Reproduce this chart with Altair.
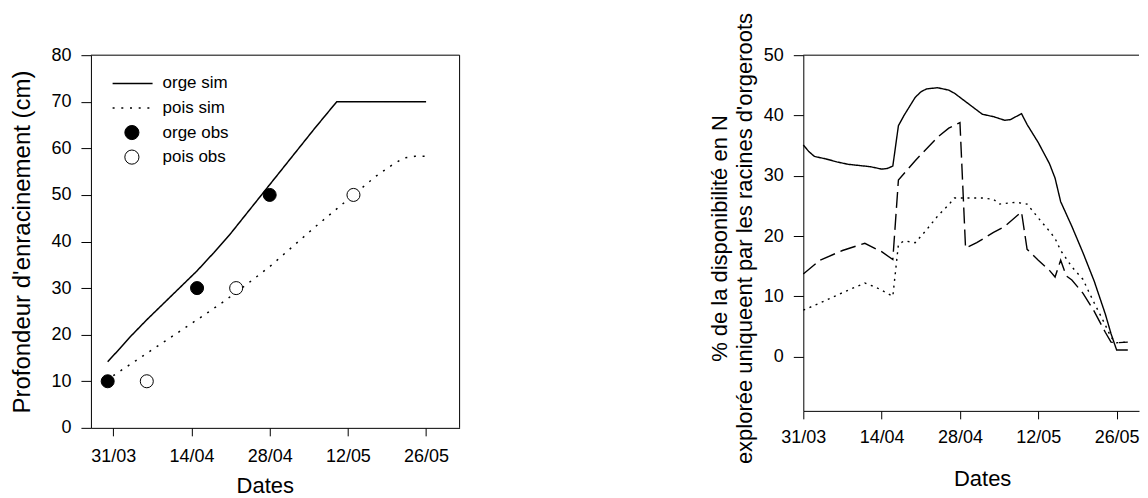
import altair as alt
import pandas as pd

FONT = "Liberation Sans"
NBSP2 = "\u00a0\u00a0"

# ---------------- Left panel : Profondeur d'enracinement ----------------
serie_labels = ["orge sim", "pois sim", "orge obs", "pois obs"]

orge_sim_dates = ["2003-03-30", "2003-04-01", "2003-04-03", "2003-04-06", "2003-04-09",
                  "2003-04-12", "2003-04-15", "2003-04-18", "2003-04-21", "2003-04-24",
                  "2003-04-28", "2003-05-02", "2003-05-06", "2003-05-10", "2003-05-26"]
orge_sim_vals = [14.2, 16.8, 19.5, 23.2, 26.7, 30.2, 33.7, 37.6, 41.7, 46.2,
                 52.2, 58.2, 64.2, 70.0, 70.0]

pois_sim_dates = ["2003-03-31", "2003-04-04", "2003-04-08", "2003-04-12", "2003-04-16",
                  "2003-04-20", "2003-04-24", "2003-04-28", "2003-05-02", "2003-05-06",
                  "2003-05-10", "2003-05-14", "2003-05-17", "2003-05-20", "2003-05-22",
                  "2003-05-24", "2003-05-26"]
pois_sim_vals = [11.2, 14.4, 17.6, 20.8, 24.0, 27.3, 30.9, 34.6, 38.8, 43.0,
                 47.0, 51.0, 54.0, 56.5, 57.9, 58.3, 58.3]

orge_obs_dates = ["2003-03-30", "2003-04-15", "2003-04-28"]
orge_obs_vals = [10, 30, 50]
pois_obs_dates = ["2003-04-06", "2003-04-22", "2003-05-13"]
pois_obs_vals = [10, 30, 50]

left_y_ticks = [0, 10, 20, 30, 40, 50, 60, 70, 80]
left_y_top = [80]
left_x_end = ["2003-06-01"]

# ---------------- Right panel : % de la disponibilité en N ----------------
right_series = ["trait plein", "tirets", "pointillés"]

solid_dates = ["2003-03-31", "2003-04-01", "2003-04-02", "2003-04-04", "2003-04-06",
               "2003-04-08", "2003-04-10", "2003-04-12", "2003-04-14", "2003-04-15",
               "2003-04-16", "2003-04-17", "2003-04-18", "2003-04-19", "2003-04-20",
               "2003-04-21", "2003-04-22", "2003-04-24", "2003-04-26", "2003-04-27",
               "2003-04-28", "2003-04-30", "2003-05-02", "2003-05-04", "2003-05-06",
               "2003-05-07", "2003-05-09", "2003-05-10", "2003-05-12", "2003-05-14",
               "2003-05-15", "2003-05-16", "2003-05-18", "2003-05-20", "2003-05-22",
               "2003-05-24", "2003-05-25", "2003-05-26", "2003-05-28"]
solid_vals = [35.1, 34.0, 33.2, 32.8, 32.3, 31.9, 31.7, 31.5, 31.1, 31.2,
              31.6, 38.3, 40.0, 41.5, 43.0, 43.9, 44.4, 44.6, 44.2, 43.7,
              43.0, 41.6, 40.2, 39.8, 39.2, 39.3, 40.3, 38.5, 35.5, 32.0,
              29.6, 25.7, 21.6, 17.2, 12.5, 7.0, 3.8, 1.1, 1.1]

dashed_dates = ["2003-03-31", "2003-04-03", "2003-04-07", "2003-04-11", "2003-04-14",
                "2003-04-16", "2003-04-17", "2003-04-20", "2003-04-24", "2003-04-26",
                "2003-04-28", "2003-04-29", "2003-05-01", "2003-05-04", "2003-05-06",
                "2003-05-09", "2003-05-10", "2003-05-12", "2003-05-14", "2003-05-15",
                "2003-05-16", "2003-05-17", "2003-05-18", "2003-05-20", "2003-05-22",
                "2003-05-24", "2003-05-25", "2003-05-26", "2003-05-28"]
dashed_vals = [13.7, 16.0, 17.6, 18.8, 17.4, 16.1, 29.3, 32.5, 36.4, 37.9,
               38.8, 18.0, 18.9, 20.6, 21.6, 24.0, 17.8, 16.0, 14.3, 13.2,
               16.0, 13.4, 12.7, 10.5, 7.5, 4.0, 2.4, 2.3, 2.4]

dotted_dates = ["2003-03-31", "2003-04-03", "2003-04-07", "2003-04-11", "2003-04-13",
                "2003-04-16", "2003-04-17", "2003-04-18", "2003-04-20", "2003-04-22",
                "2003-04-24", "2003-04-26", "2003-04-27", "2003-04-29", "2003-05-02",
                "2003-05-04", "2003-05-05", "2003-05-08", "2003-05-10", "2003-05-12",
                "2003-05-14", "2003-05-15", "2003-05-16", "2003-05-18", "2003-05-20",
                "2003-05-21", "2003-05-22", "2003-05-24", "2003-05-25", "2003-05-26",
                "2003-05-28"]
dotted_vals = [7.7, 8.9, 10.6, 12.2, 11.5, 10.0, 18.6, 19.2, 18.9, 21.0,
               23.3, 25.2, 26.3, 26.3, 26.3, 26.1, 25.3, 25.6, 25.3, 23.0,
               20.8, 19.6, 17.6, 14.9, 12.8, 10.8, 8.9, 5.2, 3.2, 2.3,
               2.4]

right_y_ticks = [0, 10, 20, 30, 40, 50]
right_y_top = [50]

x_tick_dates = [(3, 31), (4, 14), (4, 28), (5, 12), (5, 26)]
FMT = "utcFormat(datum.value, '%d/%m')"
LEFT_LABEL = FMT + " + '" + NBSP2 + "'"
RIGHT_LABEL = FMT + " + (" + FMT + " == '26/05' ? '' : '" + NBSP2 + "')"


def frame(dates, vals, name):
    return pd.DataFrame({"date": dates, "value": vals, "serie": name})


def dt(month, day, hours=0, minutes=0):
    return alt.DateTime(year=2003, month=month, date=day, hours=hours,
                        minutes=minutes, utc=True)


tick_values = [dt(m, d) for m, d in x_tick_dates]

left_lines = pd.concat([frame(orge_sim_dates, orge_sim_vals, "orge sim"),
                        frame(pois_sim_dates, pois_sim_vals, "pois sim")])
left_pts = pd.concat([frame(orge_obs_dates, orge_obs_vals, "orge obs"),
                      frame(pois_obs_dates, pois_obs_vals, "pois obs")])
legend_df = pd.DataFrame({"serie": serie_labels})

xl = alt.X("date:T",
           scale=alt.Scale(type="utc", domain=[dt(3, 27), dt(6, 1)]),
           axis=alt.Axis(values=tick_values, labelExpr=LEFT_LABEL,
                         title="Dates", tickSize=8, labelPadding=12,
                         titlePadding=10, titleX=174))
yl = alt.Y("value:Q",
           scale=alt.Scale(domain=[0, 80], nice=False),
           axis=alt.Axis(values=left_y_ticks, title="Profondeur d'enracinement (cm)",
                         tickSize=10, labelPadding=10, titleFontSize=24,
                         titlePadding=16))

dash_scale = alt.Scale(domain=serie_labels, range=[[1, 0], [2, 6.7], [1, 0], [1, 0]])
fill_scale = alt.Scale(domain=serie_labels,
                       range=["transparent", "transparent", "black", "white"])

lines_left = alt.Chart(left_lines).mark_line(color="black", strokeWidth=1.5).encode(
    x=xl, y=yl,
    strokeDash=alt.StrokeDash("serie:N", scale=dash_scale, legend=None),
)
pts_left = alt.Chart(left_pts).mark_point(filled=True, shape="circle", size=170,
                                          stroke="black", strokeWidth=1,
                                          opacity=1).encode(
    x=xl, y=yl,
    fill=alt.Fill("serie:N", scale=fill_scale, legend=None),
)
left_top = alt.Chart(pd.DataFrame({"value": left_y_top})).mark_rule(
    color="black", strokeWidth=1).encode(y=alt.Y("value:Q"))
left_right = alt.Chart(pd.DataFrame({"date": left_x_end})).mark_rule(
    color="black", strokeWidth=1).encode(x=alt.X("date:T"))

data_layer = alt.layer(lines_left, pts_left, left_top, left_right)

# legend (top-left, inside the plot); point scale keeps its default outer padding
leg_y = alt.Y("serie:N", scale=alt.Scale(domain=serie_labels, range=[16, 114.3]),
              axis=None)
leg_lines = alt.Chart(legend_df).mark_rule(color="black", strokeWidth=1.5).encode(
    x=alt.value(21.7), x2=alt.value(61.7), y=leg_y,
    strokeDash=alt.StrokeDash("serie:N", scale=dash_scale, legend=None),
).transform_filter(alt.FieldOneOfPredicate(field="serie", oneOf=serie_labels[:2]))
leg_pts = alt.Chart(legend_df).mark_point(filled=True, shape="circle", size=200,
                                          stroke="black", strokeWidth=1,
                                          opacity=1).encode(
    x=alt.value(41), y=leg_y,
    fill=alt.Fill("serie:N", scale=fill_scale, legend=None),
).transform_filter(alt.FieldOneOfPredicate(field="serie", oneOf=serie_labels[2:]))
leg_text = alt.Chart(legend_df).mark_text(align="left", baseline="middle",
                                          font=FONT, fontSize=17, color="black").encode(
    x=alt.value(71.7), y=leg_y, text="serie:N",
)
legend_layer = alt.layer(leg_lines, leg_pts, leg_text)

left = alt.layer(data_layer, legend_layer).resolve_scale(y="independent").properties(
    width=369, height=373)

# right panel
right_df = pd.concat([frame(solid_dates, solid_vals, "trait plein"),
                      frame(dashed_dates, dashed_vals, "tirets"),
                      frame(dotted_dates, dotted_vals, "pointillés")])

xr = alt.X("date:T",
           scale=alt.Scale(type="utc", domain=[dt(3, 31), dt(5, 30)]),
           axis=alt.Axis(values=tick_values, labelExpr=RIGHT_LABEL,
                         title="Dates", tickSize=8, labelPadding=10,
                         titlePadding=22, titleX=179))
yr = alt.Y("value:Q",
           scale=alt.Scale(domain=[-9, 50], nice=False, zero=False),
           axis=alt.Axis(values=right_y_ticks,
                         title=["% de la disponibilité en N",
                                "explorée uniqueent par les racines d'orgeroots"],
                         tickSize=10, labelPadding=10, titleFontSize=22,
                         titleLineHeight=25, titlePadding=7, titleY=183))

lines_right = alt.Chart(right_df).mark_line(color="black", strokeWidth=1.4).encode(
    x=xr, y=yr,
    strokeDash=alt.StrokeDash("serie:N",
                              scale=alt.Scale(domain=right_series,
                                              range=[[1, 0], [16, 6], [2, 4.7]]),
                              legend=None),
)
top_line = alt.Chart(pd.DataFrame({"value": right_y_top})).mark_rule(
    color="black", strokeWidth=1).encode(y=alt.Y("value:Q"))

right = alt.layer(lines_right, top_line).properties(width=336, height=356)

chart = alt.hconcat(left, right, spacing=344, bounds="flush").resolve_scale(
    strokeDash="independent", fill="independent",
    x="independent", y="independent",
).properties(
    padding={"left": 2, "top": 3, "right": 0, "bottom": 0}
).configure_view(stroke="transparent").configure_axis(
    labelFont=FONT, titleFont=FONT, labelFontSize=18, titleFontSize=22,
    labelColor="black", titleColor="black", domainColor="black", tickColor="black",
    titleFontWeight="normal", grid=False, labelFlush=False, labelOverlap=False,
    domainWidth=1, tickWidth=1,
)

chart.save("out.html", embed_options={"renderer": "svg", "actions": False})
